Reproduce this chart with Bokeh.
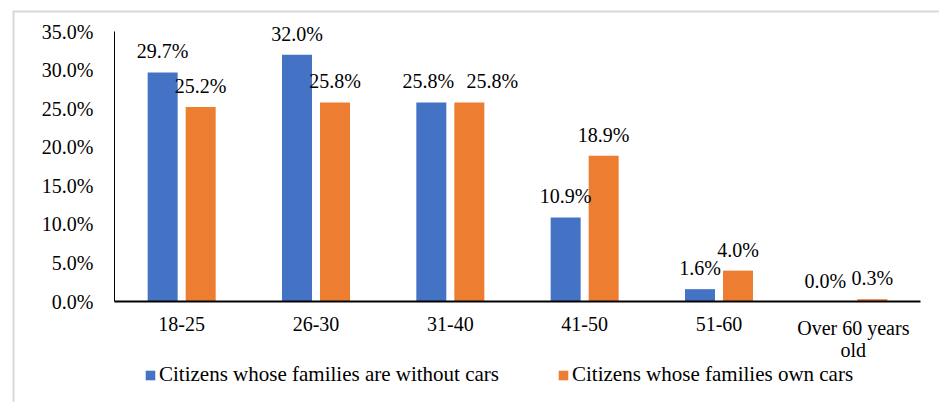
from bokeh.plotting import figure
from bokeh.models import ColumnDataSource, Range1d, Legend, LegendItem
from bokeh.transform import dodge
from bokeh.core.properties import value
from bokeh.embed import file_html
from bokeh.resources import INLINE

# Share of respondents by age group (%)
age_groups = ["18-25", "26-30", "31-40", "41-50", "51-60", "Over 60 years\nold"]
without_cars = [29.7, 32.0, 25.8, 10.9, 1.6, 0.0]
own_cars = [25.2, 25.8, 25.8, 18.9, 4.0, 0.3]
series_names = ["Citizens whose families are without cars",
                "Citizens whose families own cars"]
y_ticks = [0, 5, 10, 15, 20, 25, 30, 35]

FONT = "'Liberation Serif'"
FS = "20px"
BLUE = "#4472C4"
ORANGE = "#ED7D31"
W, H = 939, 402

# plot-area geometry in pixels: origin and scale of the value/category axes
X0_PX, Y0_PX = 114, 301
CAT_PX = 134.333          # width of one age-group slot
PCT_PX = 270 / 35.0       # pixels per percentage point


def px_x(px):
    return (px - X0_PX) / CAT_PX


def px_y(py):
    return (Y0_PX - py) / PCT_PX


n = len(age_groups)
ymax = y_ticks[-1]
centers = [i + 0.5 for i in range(n)]

src = ColumnDataSource(dict(
    x=centers,
    without=without_cars,
    own=own_cars,
    without_lbl=[f"{v:.1f}%" for v in without_cars],
    own_lbl=[f"{v:.1f}%" for v in own_cars],
    # small horizontal nudges so neighbouring labels do not collide
    without_dx=[0, 0, -3, 0, 0, -9],
    own_dx=[0, 0, 23, 0, 0, 0],
))
ticks_src = ColumnDataSource(dict(y=y_ticks, lbl=[f"{t:.1f}%" for t in y_ticks]))
cat_src = ColumnDataSource(dict(x=centers, lbl=age_groups))

p = figure(width=W, height=H,
           x_range=Range1d(px_x(0), px_x(W)), y_range=Range1d(px_y(H), px_y(0)),
           output_backend="svg", toolbar_location=None,
           x_axis_location=None, y_axis_location=None,
           min_border=0, min_border_left=0, min_border_right=0,
           min_border_top=0, min_border_bottom=0)
p.outline_line_color = None
p.grid.visible = False
p.background_fill_color = "white"
p.border_fill_color = "white"

# chart box border (top and left edges)
p.segment(x0=[px_x(12)], y0=[px_y(11)], x1=[px_x(W + 5)], y1=[px_y(11)],
          line_color="#d9d9d9", line_width=2)
p.segment(x0=[px_x(13)], y0=[px_y(11)], x1=[px_x(13)], y1=[px_y(H + 5)],
          line_color="#d9d9d9", line_width=2)

off = 0.1415
bw = 0.2233
r1 = p.vbar(x=dodge("x", -off), top="without", width=bw, source=src,
            fill_color=BLUE, line_color=None)
r2 = p.vbar(x=dodge("x", off), top="own", width=bw, source=src,
            fill_color=ORANGE, line_color=None)

# value labels
p.text(x=dodge("x", -off), y="without", text="without_lbl",
       x_offset="without_dx", y_offset=-21, source=src,
       text_align="center", text_baseline="middle",
       text_font=value(FONT), text_font_size=FS, text_color="black")
p.text(x=dodge("x", off), y="own", text="own_lbl",
       x_offset="own_dx", y_offset=-21, source=src,
       text_align="center", text_baseline="middle",
       text_font=value(FONT), text_font_size=FS, text_color="black")

# axes
p.segment(x0=[0], y0=[0], x1=[0], y1=[ymax], line_color="black", line_width=1)
p.segment(x0=[0], y0=[0], x1=[n], y1=[0], line_color="black", line_width=2)
p.text(x=0, y="y", text="lbl", source=ticks_src, x_offset=-21,
       text_align="right", text_baseline="middle",
       text_font=value(FONT), text_font_size=FS, text_color="black")
p.text(x="x", y=0, text="lbl", source=cat_src, y_offset=15,
       text_align="center", text_baseline="top", text_line_height=1.0,
       text_font=value(FONT), text_font_size=FS, text_color="black")

legend = Legend(items=[LegendItem(label=series_names[0], renderers=[r1]),
                       LegendItem(label=series_names[1], renderers=[r2])],
                orientation="horizontal", location=(144, 15),
                label_text_font=FONT, label_text_font_size="21px",
                label_text_color="black", glyph_width=12, glyph_height=12,
                label_height=20, label_standoff=3, spacing=58, padding=0,
                margin=0, border_line_color=None, background_fill_alpha=0)
p.add_layout(legend, "center")

open("out.html", "w").write(file_html(p, INLINE))
